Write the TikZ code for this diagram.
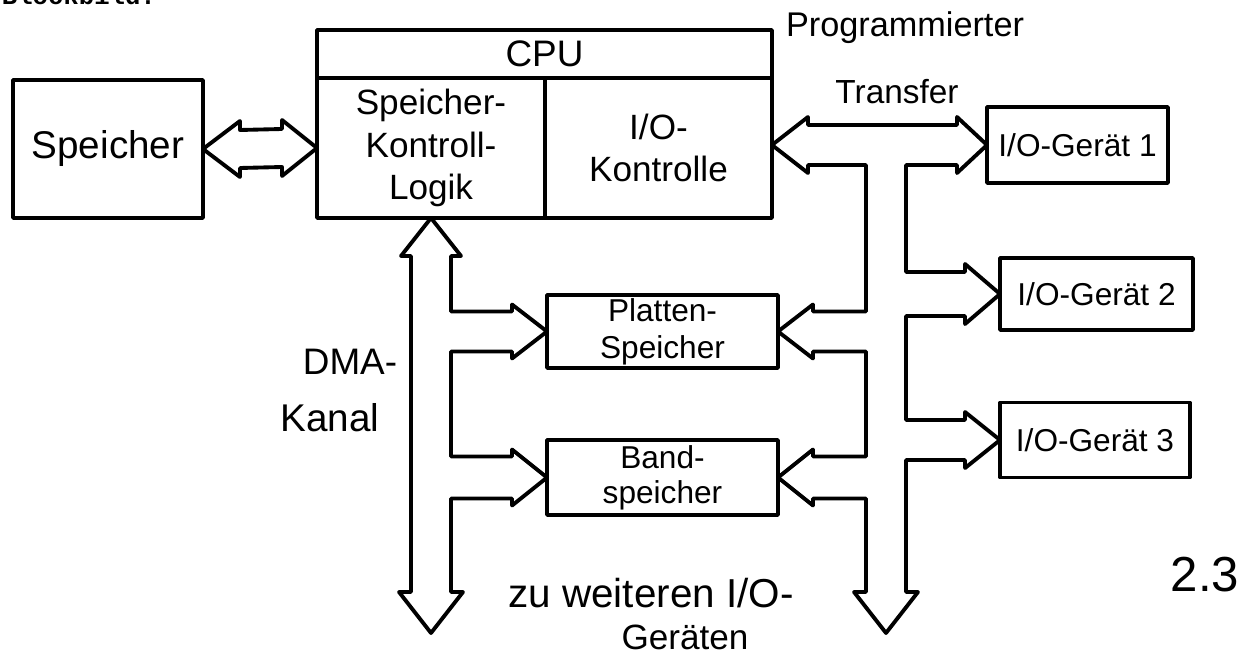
\documentclass[tikz,border=0pt]{standalone}
\usepackage{fontspec}
\setmainfont{Liberation Sans}
\newfontfamily\monob{Liberation Mono}
\usetikzlibrary{calc}
\begin{document}
\begin{tikzpicture}[x=0.02cm,y=-0.02cm,line width=2.2pt,line join=round,
  box/.style={draw,inner sep=0pt,outer sep=0pt,align=center,font=\fontsize{20}{24}\selectfont},
  bus/.style={draw,line width=2.2pt,line join=round},
  lbl/.style={inner sep=0pt,align=center,font=\fontsize{20}{22}\selectfont}]
\useasboundingbox (0,0) rectangle (1251,655);
\clip (0,0) rectangle (1251,655);
% truncated heading
\node[anchor=base west,inner sep=0pt,font=\monob\bfseries\fontsize{14.6}{16}\selectfont] (bb) at (0,5) {Blockbild:};
% boxes
\node[box,minimum width=3.8cm,minimum height=2.76cm,font=\fontsize{22}{26}\selectfont] (spk) at (108,149) {Speicher};
\node[box,minimum width=9.1cm,minimum height=0.96cm,font=\fontsize{21}{24}\selectfont] (cpu) at (544.5,54) {CPU};
\node[box,minimum width=4.56cm,minimum height=2.8cm] (smk) at (431,148) {Speicher-\\Kontroll-\\Logik};
\node[box,minimum width=4.54cm,minimum height=2.8cm] (ioc) at (658.5,148) {I/O-\\Kontrolle};
\node[box,minimum width=3.62cm,minimum height=1.52cm,font=\fontsize{18}{20}\selectfont] (g1) at (1077.5,145) {I/O-Gerät 1};
\node[box,minimum width=3.86cm,minimum height=1.44cm,font=\fontsize{18}{20}\selectfont] (g2) at (1096.5,294) {I/O-Gerät 2};
\node[box,minimum width=3.8cm,minimum height=1.5cm,font=\fontsize{18}{20}\selectfont] (g3) at (1095,440) {I/O-Gerät 3};
\node[box,minimum width=4.62cm,minimum height=1.46cm] (pl) at (662.5,331.5) {};
\node[lbl,font=\fontsize{18}{21}\selectfont] (plt) at (pl.center) {Platten-\\Speicher};
\node[box,minimum width=4.62cm,minimum height=1.5cm] (bd) at (662.5,477.5) {};
\node[lbl,font=\fontsize{18}{20}\selectfont] (bdt) at (bd.center) {Band-\\speicher};
% Speicher <-> CPU
\draw[bus] (spk.east) -- ++(37,-28) -- ++(0,9) -- ($(smk.west)+(-35,-19)$) -- ++(0,-9) -- (smk.west)
  -- ++(-35,28) -- ++(0,-9) -- ($(spk.east)+(37,19)$) -- ++(0,9) -- cycle;
% programmed transfer bus
\coordinate (iol) at (ioc.east |- g1.west);
\draw[bus] (iol) -- ++(36,-28) -- ++(0,8) -- (957,125) -- ++(0,-8) -- (g1.west) -- ++(-30,28) -- ++(0,-8)
  -- (906,165) -- (906,272) -- (965,272) -- ++(0,-8) -- (g2.west) -- ++(-35,30) -- ++(0,-8)
  -- (906,316) -- (906,420) -- (965,420) -- ++(0,-8) -- (g3.west) -- ++(-35,28) -- ++(0,-8)
  -- (906,460) -- (906,592) -- (918,592) -- (886,633) -- (854,592) -- (866,592)
  -- (866,498.5) -- (813,498.5) -- ++(0,7) -- (bd.east) -- ++(35,-28) -- ++(0,7) -- (866,456.5)
  -- (866,351.5) -- (813,351.5) -- ++(0,7) -- (pl.east) -- ++(35,-27) -- ++(0,7) -- (866,311.5)
  -- (866,165) -- (808,165) -- ++(0,8) -- cycle;
% DMA channel
\draw[bus] (smk.south) -- ++(30,38) -- ++(-10,0) -- (451,311.5) -- (512,311.5) -- ++(0,-7) -- (pl.west)
  -- ++(-35,27) -- ++(0,-7) -- (451,351.5) -- (451,456.5) -- (512,456.5) -- ++(0,-7) -- (bd.west)
  -- ++(-35,28) -- ++(0,-7) -- (451,498.5) -- (451,592) -- (463,592) -- (431,633) -- (399,592)
  -- (411,592) -- (411,256) -- (401,256) -- cycle;
% labels
\node[lbl,font=\fontsize{19.5}{21}\selectfont] (prog) at (905,28) {Programmierter};
\node[lbl,font=\fontsize{19}{21}\selectfont] (trans) at (897,92) {Transfer};
\node[lbl,font=\fontsize{21}{24}\selectfont] (dma) at (350,362) {DMA-};
\node[lbl,font=\fontsize{22}{24}\selectfont] (kanal) at (330,418) {Kanal};
\node[lbl,font=\fontsize{23}{26}\selectfont] (zu) at (651,593) {zu weiteren I/O-};
\node[lbl,font=\fontsize{20}{24}\selectfont] (ger) at (685,637) {Geräten};
\node[lbl,font=\fontsize{28}{30}\selectfont] (fig) at (1205,575) {2.3};
\end{tikzpicture}
\end{document}
